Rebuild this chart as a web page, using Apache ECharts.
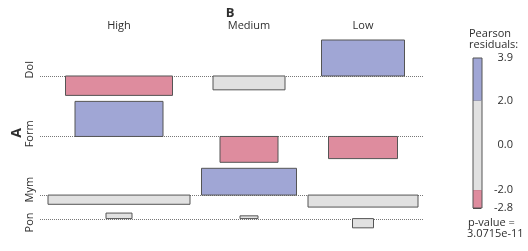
<!DOCTYPE html>
<html>
<head>
<meta charset="utf-8">
<script src="https://cdn.jsdelivr.net/npm/echarts@6/dist/echarts.min.js"></script>
<style>
  html, body { margin: 0; padding: 0; background: #fff; }
  #chart { width: 528px; height: 251px; }
</style>
</head>
<body>
<div id="chart"></div>
<script>
// columns (B) and rows (A)
const columns = ['High', 'Medium', 'Low'];
const rows = ['Dol', 'Form', 'Mym', 'Pon'];

// pearson residuals per row (High, Medium, Low)
const dolResid = [-2.1, -1.5, 3.9];
const formResid = [3.8, -2.8, -2.4];
const mymResid = [-1.0, 2.9, -1.3];
const ponResid = [0.6, 0.3, -1.0];

// sqrt of expected counts per row -> bar widths
const dolWidth = [10.7, 7.2, 8.3];
const formWidth = [8.8, 5.8, 6.9];
const mymWidth = [14.2, 9.5, 11.0];
const ponWidth = [2.6, 1.8, 2.1];

// legend
const legendTicks = [3.9, 2.0, 0.0, -2.0, -2.8];
const shadeBreaks = [-2.8, -2, 2, 3.9];
const pValue = '3.0715e-11';

const resid = [dolResid, formResid, mymResid, ponResid];
const widths = [dolWidth, formWidth, mymWidth, ponWidth];

const BLUE = '#a0a6d5', PINK = '#de8c9e', GREY = '#e1e1e1';
const shade = r => r > 2 ? BLUE : (r < -2 ? PINK : GREY);
const FONT = 'Open Sans';
const TXT = '#2e2e2e';

// layout in data units
const colGap = 1.15, rowGap = 0.65;
let colCenter = [], x = 0;
columns.forEach((c, j) => {
  let w = Math.max(...widths.map(r => r[j]));
  colCenter.push(x + w / 2);
  x += w + colGap;
});
const xMin = -0.8, xMax = x - colGap + 0.6;

let rowBase = [], rowMid = [], y = 0;
rows.forEach((r, i) => {
  let pos = Math.max(0, ...resid[i]);
  let neg = Math.max(0, ...resid[i].map(v => -v));
  rowBase.push(y + pos);
  rowMid.push(y + (pos + neg) / 2);
  y += pos + neg + rowGap;
});
const yMax = y - rowGap;

const XS = 10, YS = 9.23; // px per unit

let cells = [];
rows.forEach((r, i) => {
  columns.forEach((c, j) => {
    let w = widths[i][j];
    cells.push([colCenter[j] - w / 2, colCenter[j] + w / 2, rowBase[i], rowBase[i] - resid[i][j], resid[i][j]]);
  });
});

let bands = [];
for (let k = 0; k < shadeBreaks.length - 1; k++) {
  bands.push([shadeBreaks[k], shadeBreaks[k + 1], (shadeBreaks[k] + shadeBreaks[k + 1]) / 2]);
}

const chart = echarts.init(document.getElementById('chart'));

const option = {
  animation: false,
  grid: [
    { left: 40, top: 40, width: (xMax - xMin) * XS, height: yMax * YS },
    { left: 473, top: 58, width: 9, height: 150 }
  ],
  xAxis: [
    { gridIndex: 0, type: 'value', min: xMin, max: xMax, show: false },
    { gridIndex: 1, type: 'value', min: 0, max: 1, show: false }
  ],
  yAxis: [
    { gridIndex: 0, type: 'value', min: 0, max: yMax, inverse: true, show: false },
    {
      gridIndex: 1, type: 'value', min: -2.8, max: 3.9, position: 'right',
      axisLine: { show: false },
      splitLine: { show: false },
      axisTick: { show: true, length: 8, customValues: legendTicks, lineStyle: { color: '#444' } },
      axisLabel: {
        customValues: legendTicks, align: 'right', margin: 31,
        fontFamily: FONT, fontSize: 11, color: TXT,
        formatter: v => v.toFixed(1)
      }
    }
  ],
  series: [
    {
      type: 'custom', xAxisIndex: 0, yAxisIndex: 0, z: 1,
      data: rowBase,
      renderItem: (params, api) => {
        let b = rowBase[params.dataIndex];
        let a = api.coord([xMin, b]), c = api.coord([xMax, b]);
        return {
          type: 'line',
          shape: { x1: a[0], y1: Math.round(a[1]) + 0.5, x2: c[0], y2: Math.round(c[1]) + 0.5 },
          style: { stroke: '#777', lineWidth: 1, lineDash: [1, 1] }
        };
      }
    },
    {
      type: 'custom', xAxisIndex: 0, yAxisIndex: 0, z: 2,
      data: cells,
      renderItem: (params, api) => {
        let p0 = api.coord([api.value(0), api.value(2)]);
        let p1 = api.coord([api.value(1), api.value(3)]);
        return {
          type: 'rect',
          shape: {
            x: Math.min(p0[0], p1[0]), y: Math.min(p0[1], p1[1]),
            width: Math.abs(p1[0] - p0[0]), height: Math.abs(p1[1] - p0[1])
          },
          style: { fill: shade(api.value(4)), stroke: '#555', lineWidth: 1 }
        };
      }
    },
    {
      type: 'custom', xAxisIndex: 1, yAxisIndex: 1, z: 2,
      data: bands,
      renderItem: (params, api) => {
        let p0 = api.coord([0, api.value(0)]);
        let p1 = api.coord([1, api.value(1)]);
        return {
          type: 'rect',
          shape: { x: p0[0], y: p1[1], width: p1[0] - p0[0], height: p0[1] - p1[1] },
          style: { fill: shade(api.value(2)) }
        };
      }
    },
    {
      type: 'custom', xAxisIndex: 1, yAxisIndex: 1, z: 3,
      data: [[-2.8, 3.9]],
      renderItem: (params, api) => {
        let p0 = api.coord([0, api.value(0)]);
        let p1 = api.coord([1, api.value(1)]);
        return {
          type: 'rect',
          shape: { x: p0[0], y: p1[1], width: p1[0] - p0[0], height: p0[1] - p1[1] },
          style: { fill: 'none', stroke: '#555', lineWidth: 1 }
        };
      }
    }
  ]
};

chart.setOption(option);

// labels placed from the same layout
const txt = (text, x, y, extra) => Object.assign({
  type: 'text', x: x, y: y,
  style: { text: text, fontFamily: FONT, fontSize: 11, fill: TXT, align: 'center', verticalAlign: 'middle' }
}, extra || {});

let graphics = [];
let mid = chart.convertToPixel({ gridIndex: 0 }, [(xMin + xMax) / 2, yMax / 2]);
let b = txt('B', mid[0] - 2, 13);
b.style.fontWeight = 'bold';
b.style.fontSize = 13;
graphics.push(b);
columns.forEach((c, j) => {
  let p = chart.convertToPixel({ gridIndex: 0 }, [colCenter[j], 0]);
  graphics.push(txt(c, p[0], 26));
});
let a = txt('A', 17, mid[1] - 1, { rotation: Math.PI / 2 });
a.style.fontWeight = 'bold';
a.style.fontSize = 14;
graphics.push(a);
rows.forEach((r, i) => {
  let p = chart.convertToPixel({ gridIndex: 0 }, [0, rowMid[i]]);
  graphics.push(txt(r, 30, p[1] + 2, { rotation: Math.PI / 2 }));
});
const left = (t, x, y) => { let g = txt(t, x, y); g.style.align = 'left'; return g; };
graphics.push(left('Pearson', 469, 34));
graphics.push(left('residuals:', 469, 45));
graphics.push(left('p-value =', 468, 223));
graphics.push(left(pValue, 467, 234));

chart.setOption({ graphic: graphics });
</script>
</body>
</html>
